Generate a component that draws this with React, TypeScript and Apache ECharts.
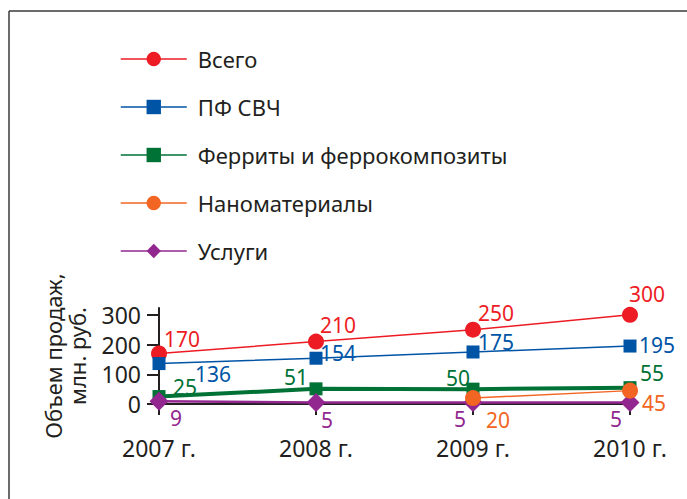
import React, { useEffect, useRef } from "react";
import * as echarts from "echarts";

const categories = ["2007 г.", "2008 г.", "2009 г.", "2010 г."];
const seriesNames = ["Всего", "ПФ СВЧ", "Ферриты и феррокомпозиты", "Наноматериалы", "Услуги"];
const totalValues = [170, 210, 250, 300];
const microwaveValues = [136, 154, 175, 195];
const ferriteValues = [25, 51, 50, 55];
const nanoValues: (number | null)[] = [null, null, 20, 45];
const servicesValues = [9, 5, 5, 5];
const yTickValues = [0, 100, 200, 300];
const yAxisName = "Объем продаж,\nмлн. руб.";

// label offsets (dx, dy) relative to each point's centre
const totalOffsets = [[23, -14], [22, -17], [23, -17], [17, -21]];
const microwaveOffsets = [[54, 10], [22, -5], [23, -10], [27, -1]];
const ferriteOffsets = [[26, -10], [-20, -12], [-15, -11], [22, -15]];
const nanoOffsets = [[0, 0], [0, 0], [25, 22], [24, 12]];
const servicesOffsets = [[17, 17], [11, 17], [-13, 16], [-14, 16]];

const FONT = "'Noto Sans', sans-serif";
const TEXT = "#231f20";

function makeSeries(
  name: string,
  values: (number | null)[],
  offsets: number[][],
  color: string,
  symbol: string,
  symbolSize: number,
  lineWidth: number,
  z: number
) {
  return {
    type: "line",
    name,
    z,
    symbol,
    symbolSize,
    showAllSymbol: true,
    lineStyle: { color, width: lineWidth },
    itemStyle: { color },
    data: values.map((v, i) =>
      v == null ? null : { value: v, label: { offset: offsets[i] } }
    ),
    label: {
      show: true,
      position: "inside",
      color,
      fontSize: 21,
      lineHeight: 22,
      fontFamily: FONT,
    },
  };
}

export default function App() {
  const ref = useRef<HTMLDivElement>(null);
  useEffect(() => {
    if (!ref.current) return;
    const chart = echarts.init(ref.current, null, { renderer: "svg" });
    chart.setOption({
      animation: false,
      backgroundColor: "#ffffff",
      graphic: [
        { type: "line", shape: { x1: 9, y1: 11, x2: 687, y2: 11 }, style: { stroke: "#3a3a3a", lineWidth: 1.5 } },
        { type: "line", shape: { x1: 9, y1: 11, x2: 9, y2: 499 }, style: { stroke: "#3a3a3a", lineWidth: 1.5 } },
      ],
      legend: {
        data: seriesNames,
        orient: "vertical",
        left: 120,
        top: 48,
        padding: 0,
        itemWidth: 66,
        itemHeight: 18,
        itemGap: 26,
        lineStyle: { width: 1.5 },
        textStyle: { fontSize: 22, color: TEXT, fontFamily: FONT, padding: [0, 0, 0, 6] },
      },
      grid: { left: 159, right: 57, top: 308, bottom: 95, containLabel: false },
      xAxis: {
        type: "category",
        data: categories,
        boundaryGap: false,
        axisLine: { onZero: true, lineStyle: { color: TEXT, width: 2 } },
        axisTick: { show: true, length: 11, lineStyle: { color: TEXT, width: 2 } },
        axisLabel: { color: TEXT, fontSize: 23, fontFamily: FONT, margin: 32 },
        splitLine: { show: false },
      },
      yAxis: {
        type: "value",
        min: 0,
        max: 323,
        name: yAxisName,
        nameLocation: "middle",
        nameRotate: 90,
        nameGap: 70,
        nameTextStyle: { fontSize: 22, color: TEXT, fontFamily: FONT, lineHeight: 24 },
        axisLine: { show: true, lineStyle: { color: TEXT, width: 2 } },
        axisTick: { show: true, length: 12, customValues: yTickValues, lineStyle: { color: TEXT, width: 2 } },
        axisLabel: {
          color: TEXT,
          fontSize: 23,
          fontFamily: FONT,
          margin: 18,
          customValues: yTickValues,
          formatter: (v: number) => (yTickValues.includes(v) ? String(v) : ""),
        },
        splitLine: { show: false },
      },
      series: [
        makeSeries(seriesNames[0], totalValues, totalOffsets, "#ed1c24", "circle", 16, 1.5, 3),
        makeSeries(seriesNames[1], microwaveValues, microwaveOffsets, "#0054a6", "rect", 13, 1.5, 3),
        makeSeries(seriesNames[2], ferriteValues, ferriteOffsets, "#007236", "rect", 13, 4, 2),
        makeSeries(seriesNames[3], nanoValues, nanoOffsets, "#f26522", "circle", 16, 1.5, 5),
        makeSeries(seriesNames[4], servicesValues, servicesOffsets, "#92278f", "diamond", 19, 2.5, 4),
      ],
    });
    return () => chart.dispose();
  }, []);
  return (
    <div
      ref={ref}
      style={{ position: "fixed", left: 0, top: 0, width: 687, height: 499 }}
    />
  );
}
